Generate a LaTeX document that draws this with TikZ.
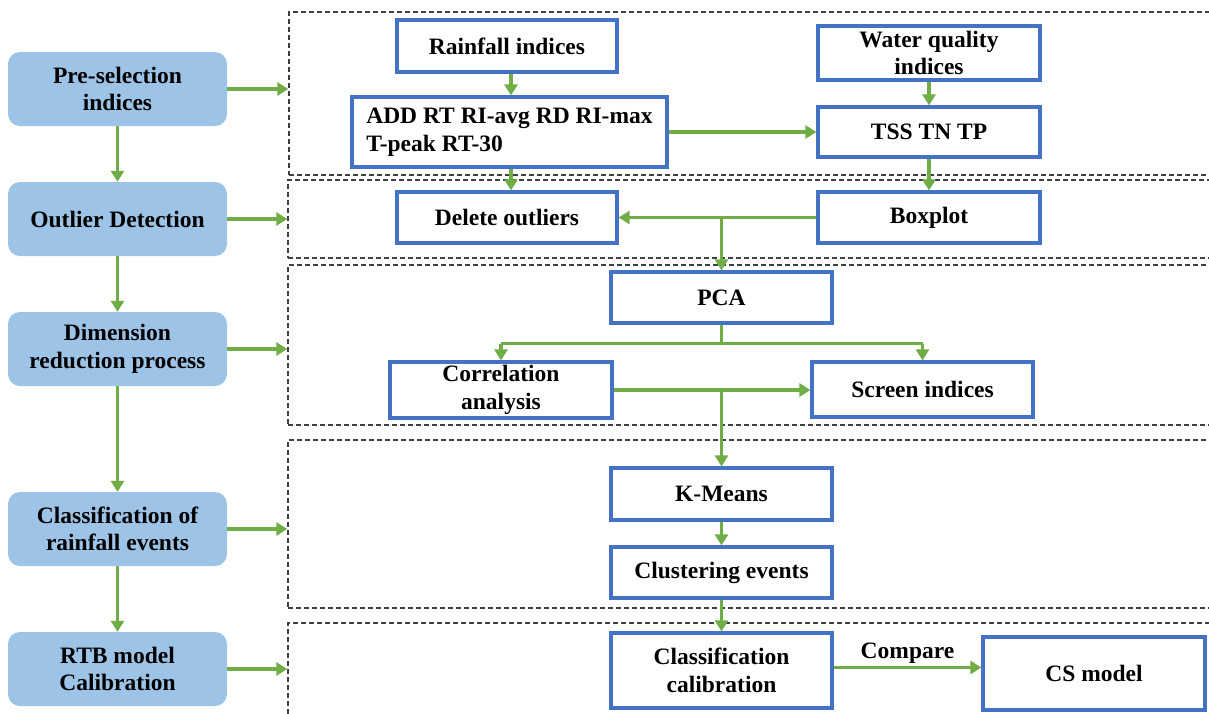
\documentclass[tikz,border=0pt]{standalone}
\usepackage{fontspec}
\setmainfont{Liberation Serif}
\usetikzlibrary{arrows.meta}
\definecolor{gr}{HTML}{70AD47}
\definecolor{bl}{HTML}{4472C4}
\definecolor{lb}{HTML}{9DC3E6}
\definecolor{dg}{HTML}{404040}
\begin{document}
\begin{tikzpicture}[x=1pt,y=-1pt,
  font=\fontsize{23.5}{27.5}\selectfont\bfseries,
  lbox/.style={fill=lb,draw=none,rounded corners=12pt,minimum width=219pt,minimum height=74pt,align=center,inner sep=0pt},
  bx/.style={draw=bl,line width=3.2pt,fill=white,align=center,inner sep=0pt},
  dbox/.style={draw=dg,line width=1.4pt,dash pattern=on 5pt off 3pt,inner sep=0pt},
  arr/.style={draw=gr,line width=3.6pt,-{Triangle[length=11pt,width=13pt]}},
  ln/.style={draw=gr,line width=3.6pt}]
\useasboundingbox (0,0) rectangle (1209,713);
\fill[white] (0,0) rectangle (1209,713);
% dashed stage boxes
\node[dbox,minimum width=935pt,minimum height=163pt] (d1) at (756.5,93.5) {};
\node[dbox,minimum width=935pt,minimum height=78pt] (d2) at (755.5,219) {};
\node[dbox,minimum width=935pt,minimum height=160pt] (d3) at (755.5,345) {};
\node[dbox,minimum width=935pt,minimum height=168pt] (d4) at (755.5,524) {};
\node[dbox,minimum width=935pt,minimum height=100pt] (d5) at (755.5,673) {};
% left boxes
\node[lbox] (l1) at (117.5,89) {Pre-selection\\indices};
\node[lbox] (l2) at (117.5,219) {Outlier Detection};
\node[lbox] (l3) at (117.5,349) {Dimension\\reduction process};
\node[lbox] (l4) at (117.5,529) {Classification of\\rainfall events};
\node[lbox] (l5) at (117.5,669) {RTB model\\Calibration};
\foreach \a/\b in {l1/l2,l2/l3,l3/l4,l4/l5} \draw[arr] (\a.south) -- (\b.north);
\foreach \a/\b in {l1/d1,l2/d2,l3/d3,l4/d4,l5/d5} \draw[arr] (\a.east) -- (\a.east -| \b.west);
% right boxes
\node[bx,minimum width=220pt,minimum height=52pt] (rain) at (507,46) {Rainfall indices};
\node[bx,minimum width=315pt,minimum height=70pt,align=left] (add) at (509.5,132) {ADD RT RI-avg RD RI-max\\T-peak RT-30};
\node[bx,minimum width=222pt,minimum height=54pt] (water) at (929,53) {Water quality\\indices};
\node[bx,minimum width=222pt,minimum height=50pt] (tss) at (929,132) {TSS TN TP};
\node[bx,minimum width=220pt,minimum height=51pt] (del) at (507,217.5) {Delete outliers};
\node[bx,minimum width=222pt,minimum height=51pt] (boxp) at (929,217.5) {Boxplot};
\node[bx,minimum width=221pt,minimum height=51pt] (pca) at (721.5,297.5) {PCA};
\node[bx,minimum width=222pt,minimum height=56pt] (corr) at (501,390) {Correlation\\analysis};
\node[bx,minimum width=221pt,minimum height=55pt] (screen) at (922.5,389.5) {Screen indices};
\node[bx,minimum width=221pt,minimum height=52pt] (km) at (721.5,494) {K-Means};
\node[bx,minimum width=221pt,minimum height=51pt] (clu) at (721.5,572.5) {Clustering events};
\node[bx,minimum width=221pt,minimum height=75pt] (cc) at (721.5,670.5) {Classification\\calibration};
\node[bx,minimum width=222pt,minimum height=73pt] (cs) at (1094,673.5) {CS model};
% connectors
\draw[arr] ([xshift=4pt]rain.south) -- ([xshift=4pt]rain.south |- add.north);
\draw[arr] ([xshift=4pt]rain.south |- add.south) -- ([xshift=4pt]rain.south |- del.north);
\draw[arr] (add.east) -- (add.east -| tss.west);
\draw[arr] (water.south) -- (tss.north);
\draw[arr] (tss.south) -- (boxp.north);
\draw[arr] (boxp.west) -- (del.east);
\draw[arr] (boxp.west -| pca.north) -- (pca.north);
\draw[ln] (pca.south) -- ++(0,19) coordinate (s1);
\draw[ln] (s1 -| corr.north) -- (s1 -| screen.north);
\draw[arr] (s1 -| corr.north) -- (corr.north);
\draw[arr] (s1 -| screen.north) -- (screen.north);
\draw[arr] (corr.east) -- (corr.east -| screen.west);
\draw[arr] (corr.east -| km.north) -- (km.north);
\draw[arr] (km.south) -- (clu.north);
\draw[arr] (clu.south) -- (cc.north);
\draw[arr] ([yshift=3pt]cc.east) -- node[above=2pt,inner sep=0pt] (cmp) {Compare} ([yshift=3pt]cc.east -| cs.west);
\end{tikzpicture}
\end{document}
